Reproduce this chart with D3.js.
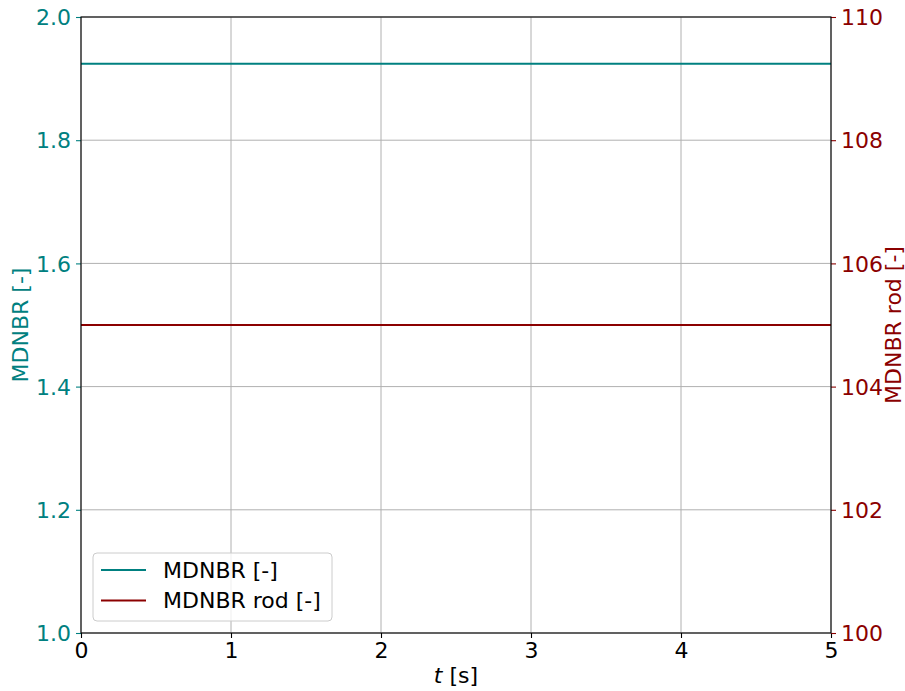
<!DOCTYPE html>
<html>
<head>
<meta charset="utf-8">
<script src="https://cdn.jsdelivr.net/npm/d3@7"></script>
<style>
  body { margin: 0; background: #fff; }
  text { font-family: "DejaVu Sans", sans-serif; }
</style>
</head>
<body>
<div id="chart-area"></div>
<script>
// values
var timeS = [0, 1, 2, 3, 4, 5];
var mdnbr = [1.924, 1.924, 1.924, 1.924, 1.924, 1.924];
var mdnbrRod = [105.0, 105.0, 105.0, 105.0, 105.0, 105.0];
var xTicks = [0, 1, 2, 3, 4, 5];
var yLeftTicks = [1.0, 1.2, 1.4, 1.6, 1.8, 2.0];
var yRightTicks = [100, 102, 104, 106, 108, 110];
var legendLabels = ['MDNBR [-]', 'MDNBR rod [-]'];

var teal = '#008080', darkred = '#8b0000';
var fs = '22px';

var margin = { left: 81, top: 17, right: 74, bottom: 58 };
var width = 905 - margin.left - margin.right,
    height = 691 - margin.top - margin.bottom;

var svg = d3.select('#chart-area').append('svg')
    .attr('width', 905).attr('height', 691);
var g = svg.append('g').attr('transform', 'translate(' + margin.left + ',' + margin.top + ')');

var x = d3.scaleLinear().domain([0, 5]).range([0, width]);
var yL = d3.scaleLinear().domain([1, 2]).range([height, 0]);
var yR = d3.scaleLinear().domain([100, 110]).range([height, 0]);

// grid
g.append('g').selectAll('line').data(xTicks).enter().append('line')
    .attr('x1', d => x(d)).attr('x2', d => x(d))
    .attr('y1', 0).attr('y2', height)
    .attr('stroke', '#b0b0b0').attr('stroke-width', 1);
g.append('g').selectAll('line').data(yLeftTicks).enter().append('line')
    .attr('x1', 0).attr('x2', width)
    .attr('y1', d => yL(d)).attr('y2', d => yL(d))
    .attr('stroke', '#b0b0b0').attr('stroke-width', 1);

// lines
var lineL = d3.line().x((d, i) => x(timeS[i])).y(d => yL(d));
var lineR = d3.line().x((d, i) => x(timeS[i])).y(d => yR(d));
g.append('path').datum(mdnbr).attr('d', lineL)
    .attr('fill', 'none').attr('stroke', teal).attr('stroke-width', 2);
g.append('path').datum(mdnbrRod).attr('d', lineR)
    .attr('fill', 'none').attr('stroke', darkred).attr('stroke-width', 2);

// axes
function styleAxis(sel, color) {
  sel.select('.domain').remove();
  sel.selectAll('.tick line').attr('stroke', color).attr('stroke-width', 1.1);
  sel.selectAll('.tick text').attr('fill', color).style('font-size', fs)
     .style('font-family', '"DejaVu Sans", sans-serif');
}

var xAxis = g.append('g').attr('transform', 'translate(0,' + height + ')')
    .call(d3.axisBottom(x).tickValues(xTicks).tickFormat(d3.format('d')).tickSizeOuter(0).tickSize(5).tickPadding(4));
styleAxis(xAxis, '#000');

var yAxisL = g.append('g')
    .call(d3.axisLeft(yL).tickValues(yLeftTicks).tickFormat(d3.format('.1f')).tickSizeOuter(0).tickSize(5).tickPadding(5));
styleAxis(yAxisL, teal);
yAxisL.selectAll('.tick text').attr('dy', '0.35em');

var yAxisR = g.append('g').attr('transform', 'translate(' + width + ',0)')
    .call(d3.axisRight(yR).tickValues(yRightTicks).tickFormat(d3.format('d')).tickSizeOuter(0).tickSize(5).tickPadding(5));
styleAxis(yAxisR, darkred);
yAxisR.selectAll('.tick text').attr('dy', '0.35em');

// frame
g.append('rect').attr('width', width).attr('height', height)
    .attr('fill', 'none').attr('stroke', '#000').attr('stroke-width', 1.1);

// axis labels
var xl = g.append('text').attr('x', width / 2).attr('y', height + 50)
    .attr('text-anchor', 'middle').style('font-size', fs).attr('fill', '#000');
xl.append('tspan').style('font-style', 'italic').text('t');
xl.append('tspan').text(' [s]');

g.append('text').attr('transform', 'rotate(-90)')
    .attr('x', -height / 2).attr('y', -53)
    .attr('text-anchor', 'middle').style('font-size', fs).attr('fill', teal)
    .text('MDNBR [-]');

g.append('text').attr('transform', 'rotate(-90)')
    .attr('x', -height / 2).attr('y', width + 70)
    .attr('text-anchor', 'middle').style('font-size', fs).attr('fill', darkred)
    .text('MDNBR rod [-]');

// legend
var lg = g.append('g').attr('transform', 'translate(12,536)');
lg.append('rect').attr('width', 239).attr('height', 68).attr('rx', 4)
    .attr('fill', '#fff').attr('fill-opacity', 0.8)
    .attr('stroke', '#cccccc').attr('stroke-width', 1);
var colors = [teal, darkred];
legendLabels.forEach(function (lab, i) {
  var yy = 17 + i * 30.5;
  lg.append('line').attr('x1', 8).attr('x2', 53).attr('y1', yy).attr('y2', yy)
      .attr('stroke', colors[i]).attr('stroke-width', 2);
  lg.append('text').attr('x', 70).attr('y', yy).attr('dy', '0.35em')
      .style('font-size', fs).attr('fill', '#000').text(lab);
});
</script>
</body>
</html>
